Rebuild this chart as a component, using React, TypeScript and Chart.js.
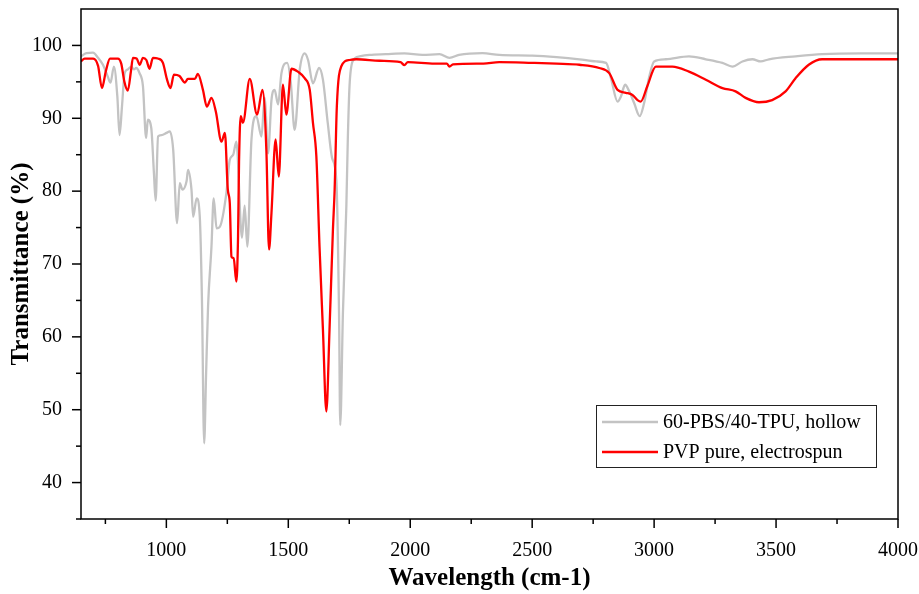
import React, { useEffect, useRef } from "react";
import { Chart, registerables } from "chart.js";
Chart.register(...registerables);

const FONT = "'Liberation Serif', 'Times New Roman', serif";

const seriesLabels = ["60-PBS/40-TPU, hollow", "PVP pure, electrospun"];
const seriesColors = ["#c3c3c3", "#ff0000"];

const xTicks = [1000, 1500, 2000, 2500, 3000, 3500, 4000];
const yTicks = [40, 50, 60, 70, 80, 90, 100];

const grayWn = [
  650, 672, 699, 720, 740, 760, 771, 785, 799, 808, 818, 829, 842, 856, 867, 876, 890, 904, 917, 924,
  938, 949, 956, 966, 980, 1001, 1014, 1028, 1044, 1055, 1066, 1083, 1089, 1103, 1110, 1124, 1137, 1146,
  1155, 1163, 1171, 1185, 1194, 1206, 1219, 1246, 1260, 1274, 1287, 1310, 1321, 1332, 1349, 1369, 1390,
  1403, 1417, 1431, 1444, 1458, 1472, 1495, 1510, 1526, 1547, 1567, 1581, 1601, 1626, 1642, 1662, 1680,
  1697, 1708, 1713, 1724, 1738, 1744, 1751, 1765, 1792, 1833, 1900, 1976, 2050, 2120, 2161, 2200, 2296,
  2365, 2500, 2600, 2694, 2762, 2803, 2823, 2850, 2864, 2881, 2898, 2918, 2941, 2959, 2980, 3000, 3048,
  3143, 3212, 3280, 3321, 3362, 3403, 3437, 3471, 3580, 3689, 3850, 4000,
];
const grayT = [
  98.5, 98.95, 99.0, 98.3, 97.35, 95.7, 94.9, 97.1, 93.0, 87.7, 91.6, 96.2, 96.7, 97.1, 96.7, 96.9, 96.2, 94.4, 87.3, 89.8,
  88.7, 82.5, 78.7, 87.5, 87.7, 88.0, 88.2, 85.7, 75.6, 81.1, 80.2, 81.4, 82.9, 80.2, 76.5, 79.0, 76.5, 65.0,
  45.4, 55.0, 64.2, 72.4, 79.0, 74.9, 75.1, 79.7, 84.3, 85.0, 86.8, 73.6, 78.0, 72.4, 87.1, 90.3, 87.5,
  92.8, 85.2, 92.5, 93.9, 91.9, 96.2, 97.6, 95.0, 88.4, 96.7, 98.9, 98.0, 94.8, 96.9, 95.3, 89.3, 84.5,
  81.5, 63.3, 47.9, 63.3, 77.9, 87.1, 94.4, 97.9, 98.5, 98.7, 98.8, 98.9, 98.7, 98.8, 98.3, 98.7, 98.95,
  98.7, 98.6, 98.4, 98.1, 97.8, 97.6, 95.5, 92.3, 93.0, 94.6, 93.7, 92.1, 90.3, 92.1, 95.7, 97.8, 98.1,
  98.5, 98.1, 97.6, 97.1, 97.8, 98.1, 97.8, 98.1, 98.5, 98.8, 98.9, 98.9,
];

const redWn = [
  650, 665, 700, 720, 736, 752, 769, 801, 815, 828, 842, 855, 863, 878, 891, 904, 918, 931, 945, 965,
  986, 1002, 1017, 1031, 1054, 1076, 1088, 1117, 1129, 1150, 1166, 1185, 1203, 1226, 1240, 1252, 1260,
  1267, 1276, 1287, 1294, 1298, 1305, 1314, 1342, 1372, 1394, 1410, 1421, 1431, 1448, 1461, 1478, 1492,
  1513, 1539, 1567, 1588, 1601, 1615, 1628, 1642, 1656, 1669, 1683, 1690, 1699, 1717, 1751, 1779, 1874,
  1960, 1976, 1990, 2100, 2150, 2161, 2175, 2300, 2365, 2500, 2600, 2694, 2775, 2816, 2850, 2884, 2911,
  2932, 2945, 2972, 3007, 3075, 3143, 3212, 3280, 3334, 3375, 3430, 3484, 3539, 3580, 3634, 3689, 3800, 4000,
];
const redT = [
  97.8, 98.2, 98.2, 97.2, 94.15, 96.5, 98.2, 98.2, 97.5, 95.0, 93.8, 96.5, 98.3, 98.2, 97.35, 98.3, 98.0, 96.8, 98.3, 98.2,
  97.6, 95.4, 94.15, 96.0, 95.8, 94.9, 95.4, 95.4, 96.1, 93.9, 91.6, 92.8, 90.9, 86.8, 88.0, 80.2, 78.4,
  71.0, 70.8, 67.6, 73.8, 84.0, 90.3, 89.4, 95.4, 90.5, 93.9, 85.7, 72.0, 77.0, 87.1, 82.0, 94.6, 90.5,
  96.8, 96.4, 95.5, 93.9, 89.4, 84.8, 72.4, 61.0, 49.75, 61.0, 74.7, 80.2, 91.6, 97.1, 98.0, 98.1, 97.9,
  97.7, 97.3, 97.7, 97.5, 97.5, 97.1, 97.4, 97.5, 97.7, 97.6, 97.5, 97.35, 96.9, 96.2, 93.9, 93.5, 93.2,
  92.5, 92.3, 94.4, 97.1, 97.1, 96.4, 95.3, 94.15, 93.7, 92.8, 92.2, 92.5, 93.7, 95.5, 97.35, 98.1, 98.1, 98.1,
];

const framePlugin = {
  id: "frameAndLegend",
  afterDraw(chart: any) {
    const { ctx, chartArea: a, scales } = chart;
    const x = scales.x;
    const y = scales.y;
    ctx.save();
    ctx.strokeStyle = "#000";
    ctx.lineWidth = 1.5;
    ctx.strokeRect(a.left, a.top, a.right - a.left, a.bottom - a.top);
    for (let v = 750; v <= 4000; v += 250) {
      const px = x.getPixelForValue(v);
      const major = v % 500 === 0;
      ctx.beginPath();
      ctx.moveTo(px, a.bottom);
      ctx.lineTo(px, a.bottom + (major ? 9 : 5));
      ctx.stroke();
    }
    for (let v = 35; v <= 100; v += 5) {
      const py = y.getPixelForValue(v);
      const major = v % 10 === 0;
      ctx.beginPath();
      ctx.moveTo(a.left, py);
      ctx.lineTo(a.left - (major ? 9 : 5), py);
      ctx.stroke();
    }
    // legend
    const bx = a.right - 302;
    const by = a.bottom - 114;
    const bw = 280;
    const bh = 62;
    ctx.lineWidth = 1;
    ctx.strokeStyle = "#222";
    ctx.fillStyle = "#fff";
    ctx.fillRect(bx, by, bw, bh);
    ctx.strokeRect(bx + 0.5, by + 0.5, bw, bh);
    ctx.font = `20px ${FONT}`;
    ctx.textBaseline = "middle";
    ctx.textAlign = "left";
    chart.data.datasets.forEach((ds: any, i: number) => {
      const ly = by + 17 + i * 30;
      ctx.strokeStyle = ds.borderColor;
      ctx.lineWidth = 2.5;
      ctx.beginPath();
      ctx.moveTo(bx + 6, ly);
      ctx.lineTo(bx + 62, ly);
      ctx.stroke();
      ctx.fillStyle = "#000";
      ctx.fillText(ds.label, bx + 67, ly + 1);
    });
    ctx.restore();
  },
};

export default function App() {
  const ref = useRef<HTMLCanvasElement | null>(null);
  useEffect(() => {
    if (!ref.current) return;
    const gray = grayWn.map((w, i) => ({ x: w, y: grayT[i] }));
    const red = redWn.map((w, i) => ({ x: w, y: redT[i] }));
    const chart = new Chart(ref.current, {
      type: "line",
      data: {
        datasets: [
          {
            label: seriesLabels[0],
            data: gray,
            borderColor: seriesColors[0],
            borderWidth: 2.3,
            pointRadius: 0,
            cubicInterpolationMode: "monotone",
            order: 1,
          },
          {
            label: seriesLabels[1],
            data: red,
            borderColor: seriesColors[1],
            borderWidth: 2.3,
            pointRadius: 0,
            cubicInterpolationMode: "monotone",
            order: 0,
          },
        ],
      },
      options: {
        animation: false,
        responsive: true,
        maintainAspectRatio: false,
        layout: { padding: { top: 9, right: 21, left: 0, bottom: 0 } },
        plugins: { legend: { display: false }, tooltip: { enabled: false } },
        scales: {
          x: {
            type: "linear",
            min: 650,
            max: 4000,
            grid: { display: false },
            border: { display: false },
            afterBuildTicks: (s: any) => {
              s.ticks = xTicks.map((v) => ({ value: v }));
            },
            afterFit: (s: any) => {
              s.height = 75;
              s.paddingLeft = 0;
              s.paddingRight = 0;
            },
            ticks: {
              color: "#000",
              padding: 12,
              maxRotation: 0,
              font: { family: FONT, size: 20 },
              callback: (v: any) => String(v),
            },
            title: {
              display: true,
              text: "Wavelength (cm-1)",
              color: "#000",
              padding: { top: 0, bottom: 0 },
              font: { family: FONT, size: 25, weight: "bold" },
            },
          },
          y: {
            type: "linear",
            min: 35,
            max: 105,
            grid: { display: false },
            border: { display: false },
            afterBuildTicks: (s: any) => {
              s.ticks = yTicks.map((v) => ({ value: v }));
            },
            afterFit: (s: any) => {
              s.width = 81;
              s.paddingTop = 0;
              s.paddingBottom = 0;
            },
            ticks: {
              color: "#000",
              padding: 11,
              font: { family: FONT, size: 20 },
              callback: (v: any) => String(v),
            },
            title: {
              display: true,
              text: "Transmittance (%)",
              color: "#000",
              padding: { top: 7, bottom: 0 },
              font: { family: FONT, size: 25, weight: "bold" },
            },
          },
        },
      },
      plugins: [framePlugin],
    });
    return () => chart.destroy();
  }, []);
  return (
    <div style={{ position: "fixed", left: 0, top: 0, width: 919, height: 594, background: "#fff" }}>
      <canvas ref={ref} />
    </div>
  );
}
